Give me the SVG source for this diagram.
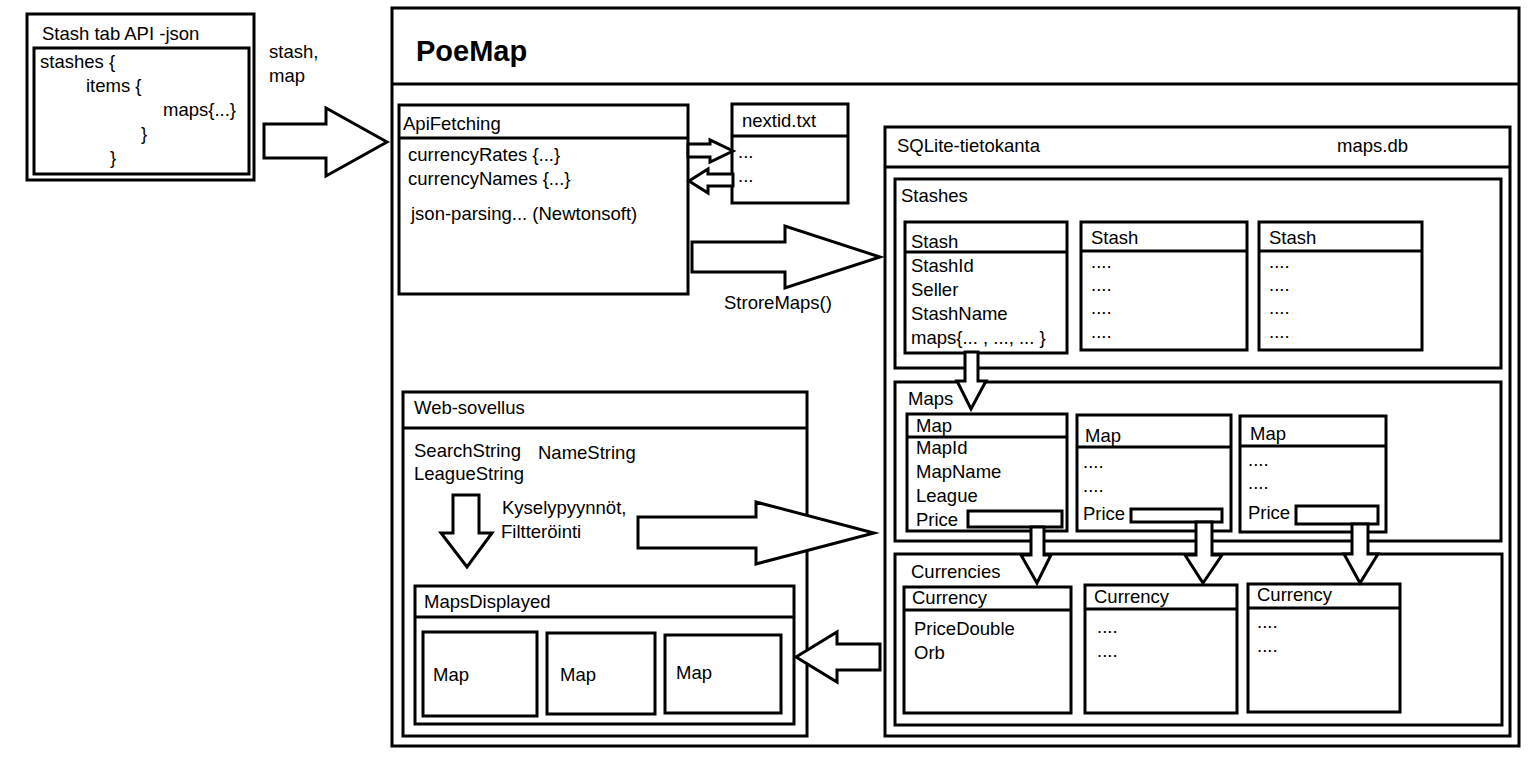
<svg xmlns="http://www.w3.org/2000/svg" width="1530" height="763" viewBox="0 0 1530 763">
<style>
.b{fill:none;stroke:#000;stroke-width:3}
.l{stroke:#000;stroke-width:3}
.a{fill:#fff;stroke:#000;stroke-width:3;stroke-linejoin:miter}
text{font-family:"Liberation Sans",Arial,sans-serif;font-size:18.5px;fill:#000}
.h{font-weight:bold;font-size:29px}
</style>
<rect width="1530" height="763" fill="#fff"/>

<g id="stash-api">
<rect class="b" x="27" y="14" width="227" height="166"/>
<rect class="b" x="34" y="48" width="215" height="126"/>
<text x="42" y="40">Stash tab API -json</text>
<text x="40" y="68">stashes {</text>
<text x="86" y="92">items {</text>
<text x="163" y="116">maps{...}</text>
<text x="141" y="140">}</text>
<text x="110" y="164">}</text>
</g>

<g id="poemap">
<rect class="b" x="392" y="8" width="1127" height="738"/>
<line class="l" x1="392" y1="84" x2="1519" y2="84"/>
<text class="h" x="416" y="61">PoeMap</text>
</g>

<g id="apifetching">
<rect class="b" x="399" y="105" width="289" height="189"/>
<line class="l" x1="399" y1="138" x2="688" y2="138"/>
<text x="403" y="130">ApiFetching</text>
<text x="408" y="161">currencyRates {...}</text>
<text x="408" y="185">currencyNames {...}</text>
<text x="411" y="220">json-parsing... (Newtonsoft)</text>
</g>

<g id="nextid">
<rect class="b" x="732" y="104" width="116" height="99"/>
<line class="l" x1="732" y1="136" x2="848" y2="136"/>
<text x="742" y="127">nextid.txt</text>
<text x="738" y="158">...</text>
<text x="738" y="182">...</text>
</g>

<g id="sqlite">
<rect class="b" x="885" y="127" width="625" height="609"/>
<line class="l" x1="885" y1="167" x2="1510" y2="167"/>
<text x="897" y="152">SQLite-tietokanta</text>
<text x="1337" y="152">maps.db</text>
</g>

<g id="stashes">
<rect class="b" x="895" y="179" width="606" height="189"/>
<text x="901" y="202">Stashes</text>
</g>
<g id="stash1">
<rect class="b" x="905" y="222" width="162" height="131"/>
<line class="l" x1="905" y1="252" x2="1067" y2="252"/>
<text x="911" y="248">Stash</text>
<text x="911" y="272">StashId</text>
<text x="911" y="296">Seller</text>
<text x="911" y="320">StashName</text>
<text x="911" y="344">maps{... , ..., ... }</text>
</g>
<g id="stash2">
<rect class="b" x="1081" y="222" width="166" height="128"/>
<line class="l" x1="1081" y1="251" x2="1247" y2="251"/>
<text x="1091" y="244">Stash</text>
<text x="1091" y="268">....</text>
<text x="1091" y="291">....</text>
<text x="1091" y="314">....</text>
<text x="1091" y="338">....</text>
</g>
<g id="stash3">
<rect class="b" x="1259" y="222" width="163" height="128"/>
<line class="l" x1="1259" y1="251" x2="1422" y2="251"/>
<text x="1269" y="244">Stash</text>
<text x="1269" y="268">....</text>
<text x="1269" y="291">....</text>
<text x="1269" y="314">....</text>
<text x="1269" y="338">....</text>
</g>

<g id="maps">
<rect class="b" x="895" y="382" width="606" height="159"/>
<text x="908" y="405">Maps</text>
</g>
<g id="map1">
<rect class="b" x="907" y="414" width="160" height="117"/>
<line class="l" x1="907" y1="437" x2="1067" y2="437"/>
<text x="916" y="432">Map</text>
<text x="916" y="454">MapId</text>
<text x="916" y="478">MapName</text>
<text x="916" y="502">League</text>
<text x="916" y="526">Price</text>
<rect class="b" x="968" y="511" width="94" height="16"/>
</g>
<g id="map2">
<rect class="b" x="1077" y="415" width="154" height="116"/>
<line class="l" x1="1077" y1="447" x2="1231" y2="447"/>
<text x="1085" y="442">Map</text>
<text x="1083" y="468">....</text>
<text x="1083" y="492">....</text>
<text x="1083" y="520">Price</text>
<rect class="b" x="1131" y="509" width="91" height="13"/>
</g>
<g id="map3">
<rect class="b" x="1240" y="416" width="146" height="116"/>
<line class="l" x1="1240" y1="446" x2="1386" y2="446"/>
<text x="1250" y="440">Map</text>
<text x="1248" y="466">....</text>
<text x="1248" y="489">....</text>
<text x="1248" y="519">Price</text>
<rect class="b" x="1296" y="506" width="82" height="18"/>
</g>

<g id="currencies">
<rect class="b" x="895" y="554" width="607" height="171"/>
<text x="911" y="578">Currencies</text>
</g>
<g id="currency1">
<rect class="b" x="904" y="587" width="167" height="126"/>
<line class="l" x1="904" y1="610" x2="1071" y2="610"/>
<text x="912" y="604">Currency</text>
<text x="914" y="635">PriceDouble</text>
<text x="914" y="659">Orb</text>
</g>
<g id="currency2">
<rect class="b" x="1085" y="585" width="152" height="128"/>
<line class="l" x1="1085" y1="609" x2="1237" y2="609"/>
<text x="1094" y="603">Currency</text>
<text x="1097" y="633">....</text>
<text x="1097" y="657">....</text>
</g>
<g id="currency3">
<rect class="b" x="1248" y="584" width="152" height="128"/>
<line class="l" x1="1248" y1="608" x2="1400" y2="608"/>
<text x="1257" y="601">Currency</text>
<text x="1257" y="628">....</text>
<text x="1257" y="652">....</text>
</g>

<g id="web-sovellus">
<rect class="b" x="403" y="392" width="404" height="344"/>
<line class="l" x1="403" y1="428" x2="807" y2="428"/>
<text x="414" y="414">Web-sovellus</text>
<text x="414" y="457">SearchString</text>
<text x="538" y="459">NameString</text>
<text x="414" y="480">LeagueString</text>
</g>
<g id="mapsdisplayed">
<rect class="b" x="415" y="586" width="379" height="138"/>
<line class="l" x1="415" y1="617" x2="794" y2="617"/>
<text x="424" y="608">MapsDisplayed</text>
</g>
<g id="dmap1">
<rect class="b" x="423" y="632" width="114" height="84"/>
<text x="433" y="681">Map</text>
</g>
<g id="dmap2">
<rect class="b" x="547" y="633" width="108" height="81"/>
<text x="560" y="681">Map</text>
</g>
<g id="dmap3">
<rect class="b" x="665" y="635" width="116" height="78"/>
<text x="676" y="679">Map</text>
</g>

<g id="connectors">
<polygon class="a" points="264,124 326,124 326,108 387,142 326,176 326,158 264,158"/>
<polygon class="a" points="688,144 710,144 710,140 733,151 710,162 710,157 688,157"/>
<polygon class="a" points="733,174 708,174 708,169 689,181 708,193 708,186 733,186"/>
<polygon class="a" points="692,242 785,242 785,226 880,257 785,288 785,272 692,272"/>
<polygon class="a" points="965,352 978,352 978,381 986,381 971,409 957,381 965,381"/>
<polygon class="a" points="1031,527 1044,527 1044,555 1051,555 1037,583 1021,555 1031,555"/>
<polygon class="a" points="1196,522 1212,522 1212,555 1222,555 1203,583 1185,555 1196,555"/>
<polygon class="a" points="1352,524 1368,524 1368,554 1378,554 1360,583 1344,554 1352,554"/>
<polygon class="a" points="453,495 479,495 479,533 492,533 467,567 441,533 453,533"/>
<polygon class="a" points="638,517 756,517 756,502 874,533 756,564 756,548 638,548"/>
<polygon class="a" points="880,644 837,644 837,632 796,657 837,682 837,670 880,670"/>
<text x="269" y="58">stash,</text>
<text x="269" y="82">map</text>
<text x="724" y="309">StroreMaps()</text>
<text x="502" y="514">Kyselypyynnöt,</text>
<text x="501" y="538">Filtteröinti</text>
</g>
</svg>
